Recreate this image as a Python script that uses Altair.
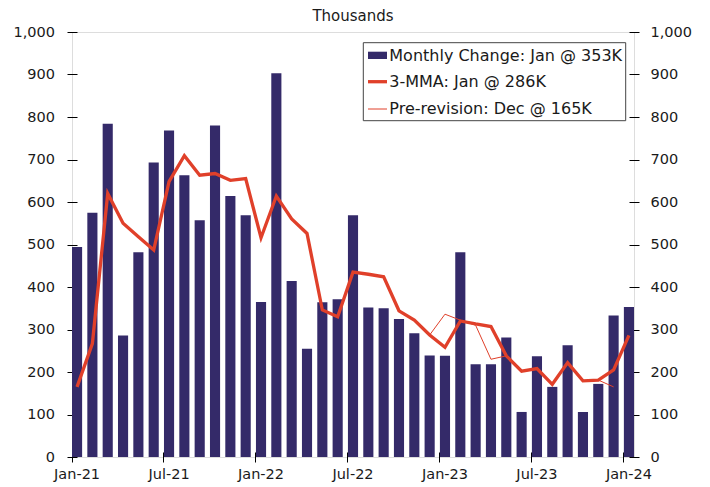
import altair as alt
import pandas as pd

months = ["Jan-21", "Feb-21", "Mar-21", "Apr-21", "May-21", "Jun-21", "Jul-21", "Aug-21", "Sep-21", "Oct-21", "Nov-21", "Dec-21",
          "Jan-22", "Feb-22", "Mar-22", "Apr-22", "May-22", "Jun-22", "Jul-22", "Aug-22", "Sep-22", "Oct-22", "Nov-22", "Dec-22",
          "Jan-23", "Feb-23", "Mar-23", "Apr-23", "May-23", "Jun-23", "Jul-23", "Aug-23", "Sep-23", "Oct-23", "Nov-23", "Dec-23",
          "Jan-24"]

monthly_change = [494, 575, 784, 286, 482, 693, 768, 663, 557, 780, 614, 569,
                  365, 903, 414, 255, 364, 371, 569, 352, 350, 325, 291, 239,
                  238, 482, 218, 218, 281, 106, 237, 165, 263, 106, 172, 333,
                  353]

mma3 = [165, 267, 620, 550, 518, 487, 648, 709, 663, 667, 651, 655,
        516, 614, 560, 526, 346, 330, 435, 430, 424, 344, 322, 287,
        258, 320, 313, 307, 238, 202, 208, 171, 222, 179, 181, 205,
        286]

pre_revision = [165, 267, 620, 550, 518, 487, 648, 709, 663, 667, 651, 655,
                516, 614, 560, 526, 346, 330, 435, 430, 424, 344, 322, 287,
                336, 322, 310, 230, 238, 202, 208, 171, 222, 179, 181, 165]

series_names = ["Monthly Change: Jan @ 353K", "3-MMA: Jan @ 286K", "Pre-revision: Dec @ 165K"]
x_label_months = ["Jan-21", "Jul-21", "Jan-22", "Jul-22", "Jan-23", "Jul-23", "Jan-24"]
y_ticks = [0, 100, 200, 300, 400, 500, 600, 700, 800, 900, 1000]

BAR = "#342A69"
RED = "#E0402A"
FONT = "DejaVu Sans"
TXT = "#1a1a1a"

bars_df = pd.DataFrame({"month": months, "value": monthly_change})
mma_df = pd.DataFrame({"month": months, "value": mma3})
pre_df = pd.DataFrame({"month": months[:len(pre_revision)], "value": pre_revision})

x_scale = alt.Scale(domain=months, paddingInner=0.34, paddingOuter=0)
x_axis = alt.Axis(values=x_label_months, bandPosition=0, labelAngle=0, title=None,
                  domain=False, offset=-5, tickSize=10, tickColor="black",
                  labelFont=FONT, labelFontSize=14.5, labelColor=TXT, labelPadding=5)

y_scale = alt.Scale(domain=[0, 1000], nice=False, zero=True)

bars = alt.Chart(bars_df).mark_bar(color=BAR).encode(
    x=alt.X("month:N", sort=months, scale=x_scale, axis=x_axis),
    y=alt.Y("value:Q", scale=y_scale,
            axis=alt.Axis(values=y_ticks, format=",d", title=None, orient="left", grid=False,
                          domain=False, offset=-5, tickSize=10, tickColor="black",
                          labelFont=FONT, labelFontSize=14.5, labelColor=TXT, labelPadding=12.5)),
)

pre_line = alt.Chart(pre_df).mark_line(strokeWidth=1, color=RED).encode(
    x=alt.X("month:N", sort=months, scale=x_scale, axis=x_axis),
    y=alt.Y("value:Q", scale=y_scale, axis=None),
)

mma_line = alt.Chart(mma_df).mark_line(strokeWidth=3.3, color=RED).encode(
    x=alt.X("month:N", sort=months, scale=x_scale, axis=x_axis),
    y=alt.Y("value:Q", scale=y_scale,
            axis=alt.Axis(values=y_ticks, format=",d", title=None, orient="right", grid=False,
                          domain=False, offset=-5, tickSize=10, tickColor="black",
                          labelFont=FONT, labelFontSize=14.5, labelColor=TXT, labelPadding=11)),
)

# ---- legend (drawn by hand, positions in pixels relative to the plot area) ----
one = pd.DataFrame({"k": [0]})
legend_box = alt.Chart(one).mark_rect(fill="white", stroke="#444444", strokeWidth=1).encode(
    x=alt.value(291.3), x2=alt.value(553.7), y=alt.value(10.7), y2=alt.value(88.7))
legend_bar = alt.Chart(one).mark_rect(fill=BAR).encode(
    x=alt.value(296), x2=alt.value(315), y=alt.value(19.7), y2=alt.value(27))
legend_thick = alt.Chart(one).mark_rule(color=RED, strokeWidth=3.3).encode(
    x=alt.value(296), x2=alt.value(315), y=alt.value(49.7))
legend_thin = alt.Chart(one).mark_rule(color=RED, strokeWidth=1).encode(
    x=alt.value(296), x2=alt.value(315), y=alt.value(77))

legend_texts = []
for name, ybase in zip(series_names, [28.7, 54.7, 82.0]):
    legend_texts.append(
        alt.Chart(pd.DataFrame({"label": [name]})).mark_text(
            align="left", baseline="alphabetic", font=FONT, fontSize=16, color=TXT
        ).encode(x=alt.value(317.3), y=alt.value(ybase), text="label:N")
    )

chart = alt.layer(bars, pre_line, mma_line, legend_box, legend_bar, legend_thick, legend_thin,
                  *legend_texts).resolve_scale(y="independent").properties(
    width=562, height=425,
    title=alt.TitleParams("Thousands", font=FONT, fontSize=15, fontWeight="normal", color=TXT,
                          anchor="middle", offset=0),
    autosize=alt.AutoSizeParams(type="none"),
    padding={"left": 64, "top": 24, "right": 68, "bottom": 30},
).configure_view(stroke="black", strokeWidth=1).configure(background="white")

chart.save("out.html", embed_options={"renderer": "svg", "actions": False})
